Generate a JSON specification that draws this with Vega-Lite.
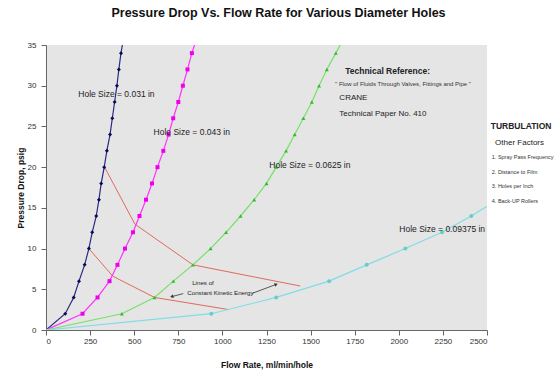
{
  "$schema": "https://vega.github.io/schema/vega-lite/v6.json",
  "width": 441,
  "height": 285,
  "autosize": {"type": "none"},
  "padding": {"left": 46, "top": 45, "right": 73, "bottom": 48},
  "background": "white",
  "title": {"text": "Pressure Drop Vs. Flow Rate for Various Diameter Holes", "font": "Liberation Sans", "fontSize": 12.5, "fontWeight": "bold", "color": "#111111", "anchor": "middle", "dx": 12, "offset": 22},
  "config": {"view": {"fill": "#e5e5e5", "stroke": null}, "font": "Liberation Sans"},
  "datasets": {
    "curves": [
      {"s": "0.031", "q": 0, "p": 0}, {"s": "0.031", "q": 109, "p": 2}, {"s": "0.031", "q": 157, "p": 4}, {"s": "0.031", "q": 187, "p": 6}, {"s": "0.031", "q": 219, "p": 8}, {"s": "0.031", "q": 243, "p": 10}, {"s": "0.031", "q": 262, "p": 12}, {"s": "0.031", "q": 285, "p": 14}, {"s": "0.031", "q": 300, "p": 16}, {"s": "0.031", "q": 313, "p": 18}, {"s": "0.031", "q": 330, "p": 20}, {"s": "0.031", "q": 345, "p": 22}, {"s": "0.031", "q": 363, "p": 24}, {"s": "0.031", "q": 376, "p": 26}, {"s": "0.031", "q": 389, "p": 28}, {"s": "0.031", "q": 402, "p": 30}, {"s": "0.031", "q": 413, "p": 32}, {"s": "0.031", "q": 425, "p": 34}, {"s": "0.031", "q": 433, "p": 35},
      {"s": "0.043", "q": 0, "p": 0}, {"s": "0.043", "q": 207, "p": 2}, {"s": "0.043", "q": 292, "p": 4}, {"s": "0.043", "q": 360, "p": 6}, {"s": "0.043", "q": 405, "p": 8}, {"s": "0.043", "q": 448, "p": 10}, {"s": "0.043", "q": 493, "p": 12}, {"s": "0.043", "q": 530, "p": 14}, {"s": "0.043", "q": 567, "p": 16}, {"s": "0.043", "q": 601, "p": 18}, {"s": "0.043", "q": 632, "p": 20}, {"s": "0.043", "q": 665, "p": 22}, {"s": "0.043", "q": 695, "p": 24}, {"s": "0.043", "q": 721, "p": 26}, {"s": "0.043", "q": 750, "p": 28}, {"s": "0.043", "q": 776, "p": 30}, {"s": "0.043", "q": 802, "p": 32}, {"s": "0.043", "q": 827, "p": 34}, {"s": "0.043", "q": 842, "p": 35},
      {"s": "0.0625", "q": 0, "p": 0}, {"s": "0.0625", "q": 430, "p": 2}, {"s": "0.0625", "q": 615, "p": 4}, {"s": "0.0625", "q": 722, "p": 6}, {"s": "0.0625", "q": 833, "p": 8}, {"s": "0.0625", "q": 933, "p": 10}, {"s": "0.0625", "q": 1021, "p": 12}, {"s": "0.0625", "q": 1103, "p": 14}, {"s": "0.0625", "q": 1180, "p": 16}, {"s": "0.0625", "q": 1250, "p": 18}, {"s": "0.0625", "q": 1305, "p": 20}, {"s": "0.0625", "q": 1361, "p": 22}, {"s": "0.0625", "q": 1410, "p": 24}, {"s": "0.0625", "q": 1459, "p": 26}, {"s": "0.0625", "q": 1507, "p": 28}, {"s": "0.0625", "q": 1548, "p": 30}, {"s": "0.0625", "q": 1592, "p": 32}, {"s": "0.0625", "q": 1643, "p": 34}, {"s": "0.0625", "q": 1668, "p": 35},
      {"s": "0.09375", "q": 0, "p": 0}, {"s": "0.09375", "q": 937, "p": 2}, {"s": "0.09375", "q": 1305, "p": 4}, {"s": "0.09375", "q": 1605, "p": 6}, {"s": "0.09375", "q": 1818, "p": 8}, {"s": "0.09375", "q": 2037, "p": 10}, {"s": "0.09375", "q": 2245, "p": 12}, {"s": "0.09375", "q": 2411, "p": 14}, {"s": "0.09375", "q": 2500, "p": 15.2}
    ],
    "ke": [
      {"g": "upper", "q": 332, "p": 20}, {"g": "upper", "q": 504, "p": 13}, {"g": "upper", "q": 833, "p": 8}, {"g": "upper", "q": 1441, "p": 5.4},
      {"g": "lower", "q": 243, "p": 10}, {"g": "lower", "q": 379, "p": 6.6}, {"g": "lower", "q": 615, "p": 4}, {"g": "lower", "q": 1038, "p": 2.5}
    ]
  },
  "encoding": {
    "x": {"field": "q", "type": "quantitative", "scale": {"domain": [0, 2500], "nice": false, "zero": false},
      "axis": {"title": "Flow Rate, ml/min/hole", "format": "d", "values": [0, 250, 500, 750, 1000, 1250, 1500, 1750, 2000, 2250, 2500], "grid": false, "labelFontSize": 8, "labelColor": "#333333", "tickColor": "#666666", "domainColor": "#666666", "tickSize": 5, "labelPadding": 2, "titleFontSize": 8.5, "titleFontWeight": "bold", "titleColor": "#111111", "titlePadding": 15}},
    "y": {"field": "p", "type": "quantitative", "scale": {"domain": [0, 35], "nice": false, "zero": false},
      "axis": {"title": "Pressure Drop, psig", "values": [0, 5, 10, 15, 20, 25, 30, 35], "grid": false, "labelFontSize": 8, "labelColor": "#333333", "tickColor": "#666666", "domainColor": "#666666", "tickSize": 5, "labelPadding": 5, "titleFontSize": 8.5, "titleFontWeight": "bold", "titleColor": "#111111", "titlePadding": 2}}
  },
  "layer": [
    {
      "data": {"name": "ke"},
      "mark": {"type": "line", "color": "#e06a5c", "strokeWidth": 1},
      "encoding": {"detail": {"field": "g", "type": "nominal"}}
    },
    {
      "data": {"name": "curves"},
      "mark": {"type": "line", "strokeWidth": 1.2, "clip": true},
      "encoding": {"color": {"field": "s", "type": "nominal", "legend": null, "scale": {"domain": ["0.031", "0.043", "0.0625", "0.09375"], "range": ["#2a2a80", "#ff33ff", "#77e066", "#7fdde6"]}}}
    },
    {
      "data": {"name": "curves"},
      "transform": [{"filter": "datum.p > 0 && datum.p % 2 == 0"}],
      "mark": {"type": "point", "filled": true, "opacity": 1, "size": 16},
      "encoding": {
        "color": {"field": "s", "type": "nominal", "legend": null, "scale": {"domain": ["0.031", "0.043", "0.0625", "0.09375"], "range": ["#0a0a5a", "#ee00ee", "#33bb33", "#66cccc"]}},
        "shape": {"field": "s", "type": "nominal", "legend": null, "scale": {"domain": ["0.031", "0.043", "0.0625", "0.09375"], "range": ["diamond", "square", "triangle-up", "circle"]}}
      }
    },
    {
      "data": {"values": [{"q": 778, "p": 4.47, "q2": 713, "p2": 4.1}, {"q": 1169, "p": 4.5, "q2": 1305, "p2": 5.6}]},
      "mark": {"type": "rule", "color": "#333333", "strokeWidth": 0.8},
      "encoding": {"x2": {"field": "q2"}, "y2": {"field": "p2"}}
    },
    {
      "data": {"values": [{"q": 713, "p": 4.1}]},
      "mark": {"type": "point", "shape": "triangle-up", "filled": true, "color": "#333333", "size": 14, "angle": 254, "opacity": 1},
      "encoding": {}
    },
    {
      "data": {"values": [{"q": 1305, "p": 5.6}]},
      "mark": {"type": "point", "shape": "triangle-up", "filled": true, "color": "#333333", "size": 14, "angle": 69, "opacity": 1},
      "encoding": {}
    },
    {
      "data": {"values": [
        {"t": "Hole Size = 0.031 in", "q": 183, "p": 29.0},
        {"t": "Hole Size = 0.043 in", "q": 610, "p": 24.3},
        {"t": "Hole Size = 0.0625 in", "q": 1266, "p": 20.3},
        {"t": "Hole Size = 0.09375 in", "q": 2003, "p": 12.36}
      ]},
      "mark": {"type": "text", "align": "left", "baseline": "middle", "fontSize": 8.5, "color": "#222222"},
      "encoding": {"text": {"field": "t"}}
    },
    {
      "data": {"values": [
        {"t": "Technical Reference:", "q": 1696, "p": 31.86},
        {"t": "TURBULATION", "q": 2521, "p": 25.03}
      ]},
      "mark": {"type": "text", "align": "left", "baseline": "middle", "fontSize": 8.5, "fontWeight": "bold", "color": "#222222"},
      "encoding": {"text": {"field": "t"}}
    },
    {
      "data": {"values": [
        {"t": "CRANE", "q": 1663, "p": 28.5},
        {"t": "Technical Paper No. 410", "q": 1663, "p": 26.55},
        {"t": "Other Factors", "q": 2546, "p": 22.99}
      ]},
      "mark": {"type": "text", "align": "left", "baseline": "middle", "fontSize": 8, "color": "#222222"},
      "encoding": {"text": {"field": "t"}}
    },
    {
      "data": {"values": [
        {"t": "\" Flow of Fluids Through Valves, Fittings and Pipe \"", "q": 1639, "p": 30.15}
      ]},
      "mark": {"type": "text", "align": "left", "baseline": "middle", "fontSize": 6, "color": "#333333"},
      "encoding": {"text": {"field": "t"}}
    },
    {
      "data": {"values": [
        {"t": "Lines of", "q": 890, "p": 5.8},
        {"t": "Constant Kinetic Energy", "q": 989, "p": 4.5}
      ]},
      "mark": {"type": "text", "align": "center", "baseline": "middle", "fontSize": 6.2, "color": "#222222"},
      "encoding": {"text": {"field": "t"}}
    },
    {
      "data": {"values": [
        {"t": "1. Spray Pass Frequency", "q": 2527, "p": 21.2},
        {"t": "2. Distance to Film", "q": 2527, "p": 19.4},
        {"t": "3. Holes per Inch", "q": 2527, "p": 17.67},
        {"t": "4. Back-UP Rollers", "q": 2527, "p": 15.9}
      ]},
      "mark": {"type": "text", "align": "left", "baseline": "middle", "fontSize": 5.5, "color": "#333333"},
      "encoding": {"text": {"field": "t"}}
    }
  ],
  "resolve": {"scale": {"color": "independent", "shape": "independent"}}
}
